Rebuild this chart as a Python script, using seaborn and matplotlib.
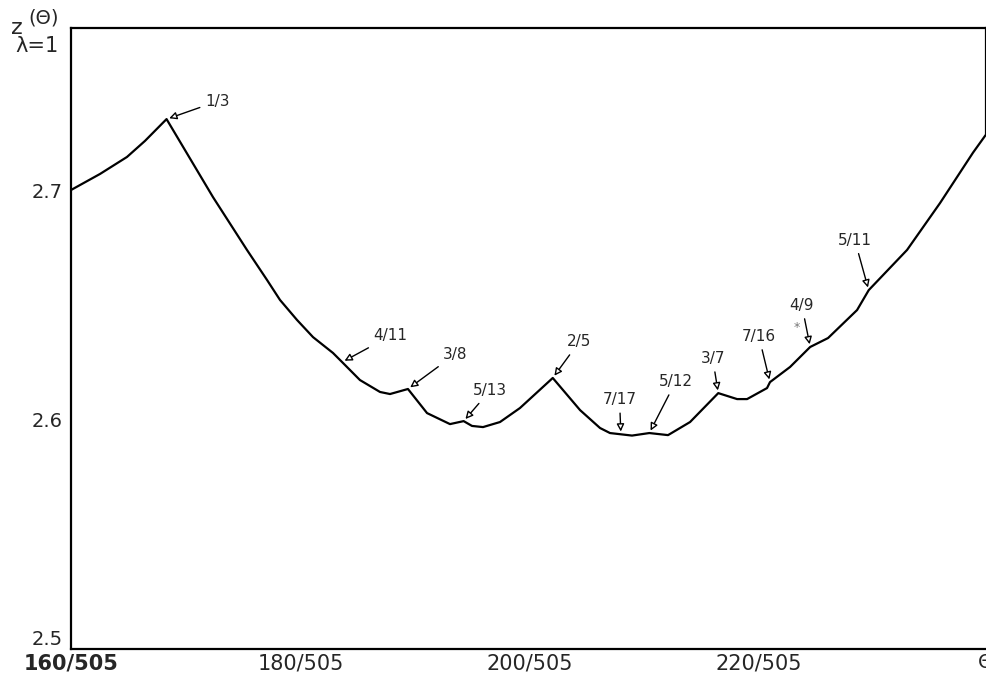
import matplotlib
matplotlib.use("Agg")
import matplotlib.pyplot as plt
import numpy as np
import seaborn as sns

# theta given as numerator over 505, z(theta)
theta_num = [160.0, 162.53, 164.88, 166.45, 168.33, 172.38, 175.34, 177.09, 178.22,
             179.70, 181.10, 182.84, 183.64, 185.19, 186.94, 187.81, 189.375, 191.04,
             193.04, 194.23, 194.96, 195.92, 197.40, 199.14, 202.0, 204.38, 206.12,
             206.99, 208.91, 210.42, 212.05, 213.97, 216.43, 218.07, 218.94, 220.68,
             220.94, 222.69, 224.44, 226.00, 228.53, 229.55, 232.89, 235.76, 238.64,
             239.86]
z_vals = [2.7000, 2.7070, 2.7144, 2.7214, 2.7309, 2.6969, 2.6739, 2.6608, 2.6521,
          2.6434, 2.6359, 2.6290, 2.6250, 2.6172, 2.6120, 2.6111, 2.6133, 2.6028,
          2.5980, 2.5993, 2.5972, 2.5967, 2.5989, 2.6050, 2.6181, 2.6041, 2.5963,
          2.5941, 2.5930, 2.5941, 2.5932, 2.5989, 2.6115, 2.6089, 2.6089, 2.6137,
          2.6163, 2.6229, 2.6316, 2.6355, 2.6477, 2.6564, 2.6739, 2.6943, 2.7163,
          2.7248]

# rational winding numbers marked on the curve
labels = ["1/3", "4/11", "3/8", "5/13", "2/5", "7/17", "5/12", "3/7", "7/16", "4/9", "5/11"]
label_vals = [1/3, 4/11, 3/8, 5/13, 2/5, 7/17, 5/12, 3/7, 7/16, 4/9, 5/11]
label_offsets = [(37, 13), (35, 19), (34, 25), (19, 22), (19, 26), (-1, 25),
                 (19, 37), (-4, 25), (-8, 33), (-6, 30), (-10, 36)]

xtick_num = [160, 180, 200, 220]
xtick_labels = ["160/505", "180/505", "200/505", "220/505"]
ytick_vals = [2.5, 2.6, 2.7]
ytick_labels = ["2.5", "2.6", "2.7"]

theta = np.array(theta_num) / 505

sns.set_style("white")
plt.rcParams["font.family"] = ["DejaVu Sans"]

fig = plt.figure(figsize=(9.87, 6.81), dpi=100)
ax = fig.add_axes([71 / 987, 32 / 681, 915 / 987, 621 / 681])

sns.lineplot(x=theta, y=z_vals, sort=False, color="black", linewidth=1.6, ax=ax)

for lab, val, off in zip(labels, label_vals, label_offsets):
    yv = np.interp(val, theta, z_vals)
    ax.annotate(lab, xy=(val, yv), xytext=off, textcoords="offset points",
                ha="center", va="center", fontsize=11,
                arrowprops=dict(arrowstyle="-|>", color="black", lw=1.0,
                                fc="white", mutation_scale=11,
                                shrinkA=2, shrinkB=2))

ax.set_xlim(160 / 505, 239.77 / 505)
ax.set_ylim(2.5, 2.7706)
ax.set_xticks(np.array(xtick_num) / 505)
ax.set_xticklabels(xtick_labels, fontsize=15)
ax.get_xticklabels()[0].set_fontweight("bold")
ax.set_yticks(ytick_vals)
ax.set_yticklabels(ytick_labels, fontsize=14)
ax.get_yticklabels()[0].set_va("bottom")
ax.tick_params(axis="x", direction="in", length=8, width=1.2, color="black", pad=3)
ax.tick_params(axis="y", length=0, pad=6)

for sp in ax.spines.values():
    sp.set_visible(True)
    sp.set_color("black")
    sp.set_linewidth(1.6)
# the right border is only visible above the point where the curve leaves the frame
ax.spines["right"].set_bounds(z_vals[-1], 2.7706)

fig.text(17 / 987, 1 - 28 / 681, "z", fontsize=16, ha="center", va="center")
fig.text(44 / 987, 1 - 18 / 681, "(Θ)", fontsize=14, ha="center", va="center")
fig.text(37 / 987, 1 - 46 / 681, "λ=1", fontsize=15, ha="center", va="center")
fig.text(986 / 987, 1 - 662 / 681, "Θ", fontsize=14, ha="center", va="center")
fig.text(797 / 987, 1 - 328 / 681, "*", fontsize=9, color="#777777",
         ha="center", va="center")

fig.savefig("out.png", dpi=100)
